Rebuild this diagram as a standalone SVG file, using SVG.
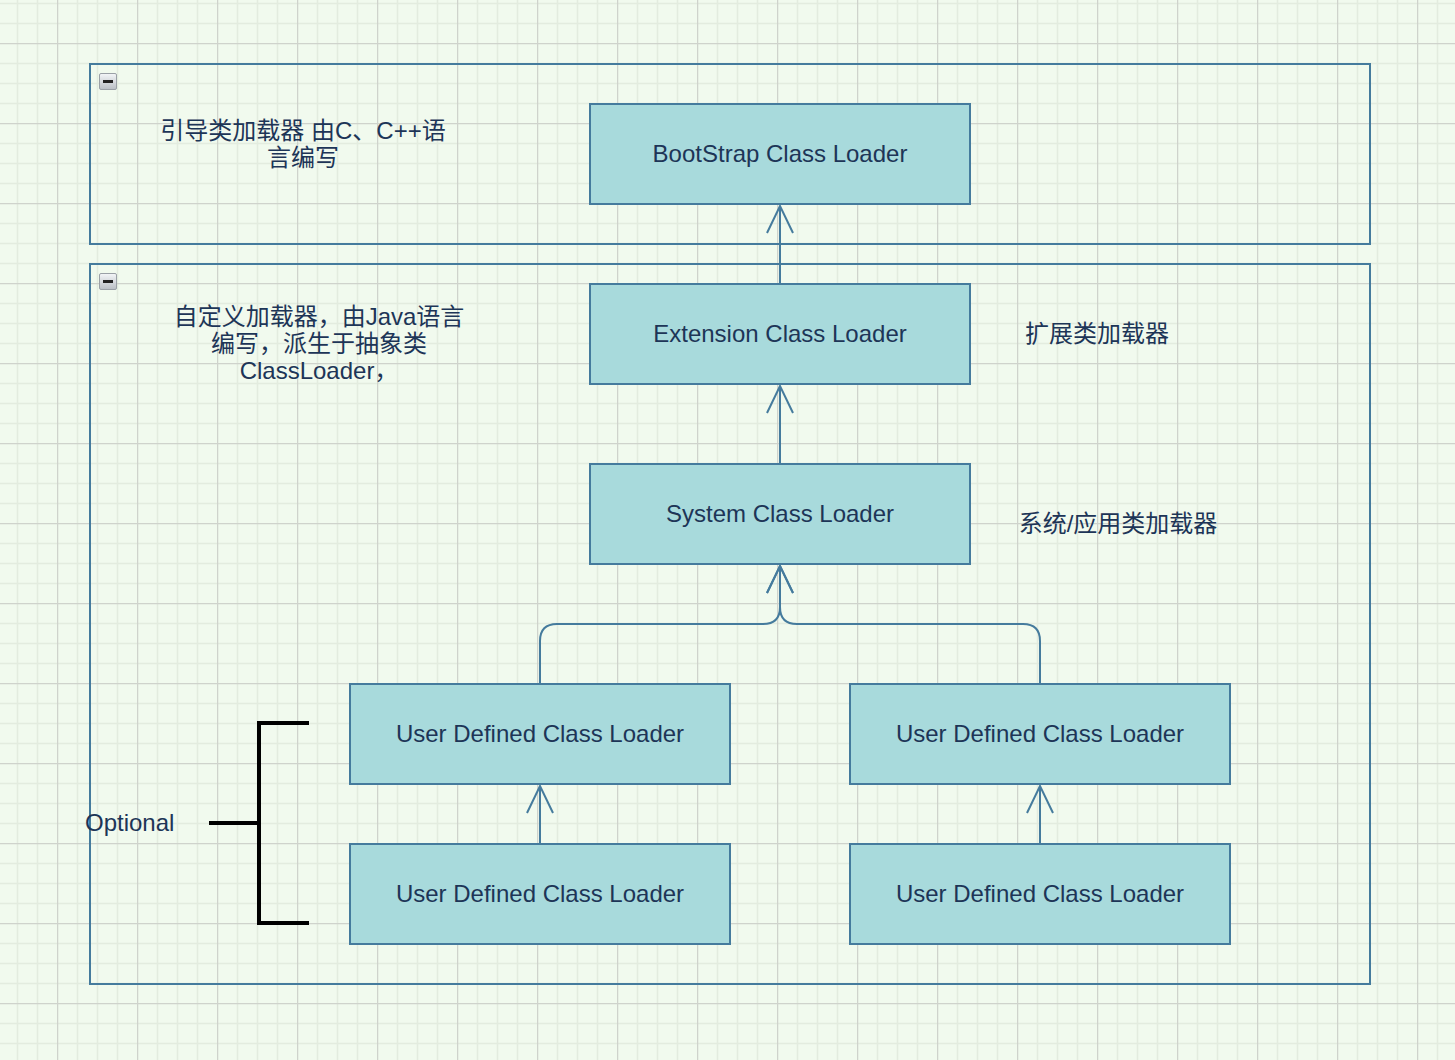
<svg xmlns="http://www.w3.org/2000/svg" width="1455" height="1060" viewBox="0 0 1455 1060">
  <style>
    .box { fill: #A8DADC; stroke: #457B9D; stroke-width: 2; }
    .cont { fill: none; stroke: #457B9D; stroke-width: 2; }
    .lbl { font-family: "Liberation Sans", "Noto Sans CJK SC", sans-serif; font-size: 24px; fill: #1D3557; }
    .mid { text-anchor: middle; }
    .edge { fill: none; stroke: #457B9D; stroke-width: 2; }
    .brk { fill: none; stroke: #000000; stroke-width: 4; }
  </style>
  <defs>
    <pattern id="grid" patternUnits="userSpaceOnUse" x="-23" y="-37" width="80" height="80">
      <rect width="80" height="80" fill="#F1FAEE"/>
      <path d="M20.5 0V80M40.5 0V80M60.5 0V80M0 20.5H80M0 40.5H80M0 60.5H80" stroke="#E3ECDF" stroke-width="1.5" fill="none"/>
      <path d="M0.5 0V80M0 0.5H80" stroke="#CFD3CC" stroke-width="1.5" fill="none"/>
    </pattern>
    <linearGradient id="icg" x1="0" y1="0" x2="0" y2="1">
      <stop offset="0" stop-color="#F4F6F8"/>
      <stop offset="1" stop-color="#B9BEC4"/>
    </linearGradient>
    <marker id="open" markerUnits="userSpaceOnUse" markerWidth="32" markerHeight="32" viewBox="-30 -16 32 32" refX="0" refY="0" orient="auto">
      <path d="M-27,-13 L0,0 L-27,13" fill="none" stroke="#457B9D" stroke-width="2"/>
    </marker>
    <g id="collapse">
      <rect x="0.5" y="0.5" width="17" height="16" rx="1.5" fill="url(#icg)" stroke="#9AA0A6" stroke-width="1"/>
      <rect x="4" y="7" width="10" height="3" fill="#222222"/>
    </g>
  </defs>

  <rect x="0" y="0" width="1455" height="1060" fill="url(#grid)"/>

  <g id="group-bootstrap">
    <rect class="cont" x="90" y="64" width="1280" height="180"/>
    <use href="#collapse" x="99" y="73"/>
    <text class="lbl mid" x="303" y="139">引导类加载器 由C、C++语</text>
    <text class="lbl mid" x="303" y="166">言编写</text>
  </g>

  <g id="group-custom">
    <rect class="cont" x="90" y="264" width="1280" height="720"/>
    <use href="#collapse" x="99" y="273"/>
    <text class="lbl mid" x="319" y="325">自定义加载器，由Java语言</text>
    <text class="lbl mid" x="319" y="352">编写，派生于抽象类</text>
    <text class="lbl mid" x="319" y="379">ClassLoader，</text>
  </g>

  <g id="connectors">
    <path class="edge" d="M780,284 L780,206" marker-end="url(#open)"/>
    <path class="edge" d="M780,464 L780,386" marker-end="url(#open)"/>
    <path class="edge" d="M540,684 L540,641 Q540,624 557,624 L763,624 Q780,624 780,607 L780,566" marker-end="url(#open)"/>
    <path class="edge" d="M1040,684 L1040,641 Q1040,624 1023,624 L797,624 Q780,624 780,607 L780,566" marker-end="url(#open)"/>
    <path class="edge" d="M540,844 L540,786" marker-end="url(#open)"/>
    <path class="edge" d="M1040,844 L1040,786" marker-end="url(#open)"/>
  </g>

  <g id="bootstrap">
    <rect class="box" x="590" y="104" width="380" height="100"/>
    <text class="lbl mid" x="780" y="161.5">BootStrap Class Loader</text>
  </g>
  <g id="extension">
    <rect class="box" x="590" y="284" width="380" height="100"/>
    <text class="lbl mid" x="780" y="341.5">Extension Class Loader</text>
  </g>
  <g id="extension-note">
    <text class="lbl mid" x="1097" y="342">扩展类加载器</text>
  </g>
  <g id="system">
    <rect class="box" x="590" y="464" width="380" height="100"/>
    <text class="lbl mid" x="780" y="521.5">System Class Loader</text>
  </g>
  <g id="system-note">
    <text class="lbl mid" x="1118" y="532">系统/应用类加载器</text>
  </g>
  <g id="user1">
    <rect class="box" x="350" y="684" width="380" height="100"/>
    <text class="lbl mid" x="540" y="741.5">User Defined Class Loader</text>
  </g>
  <g id="user2">
    <rect class="box" x="850" y="684" width="380" height="100"/>
    <text class="lbl mid" x="1040" y="741.5">User Defined Class Loader</text>
  </g>
  <g id="user3">
    <rect class="box" x="350" y="844" width="380" height="100"/>
    <text class="lbl mid" x="540" y="901.5">User Defined Class Loader</text>
  </g>
  <g id="user4">
    <rect class="box" x="850" y="844" width="380" height="100"/>
    <text class="lbl mid" x="1040" y="901.5">User Defined Class Loader</text>
  </g>

  <g id="optional">
    <path class="brk" d="M309,723 L259,723 L259,923 L309,923 M209,823 L259,823"/>
    <text class="lbl" x="85" y="831">Optional</text>
  </g>
</svg>
